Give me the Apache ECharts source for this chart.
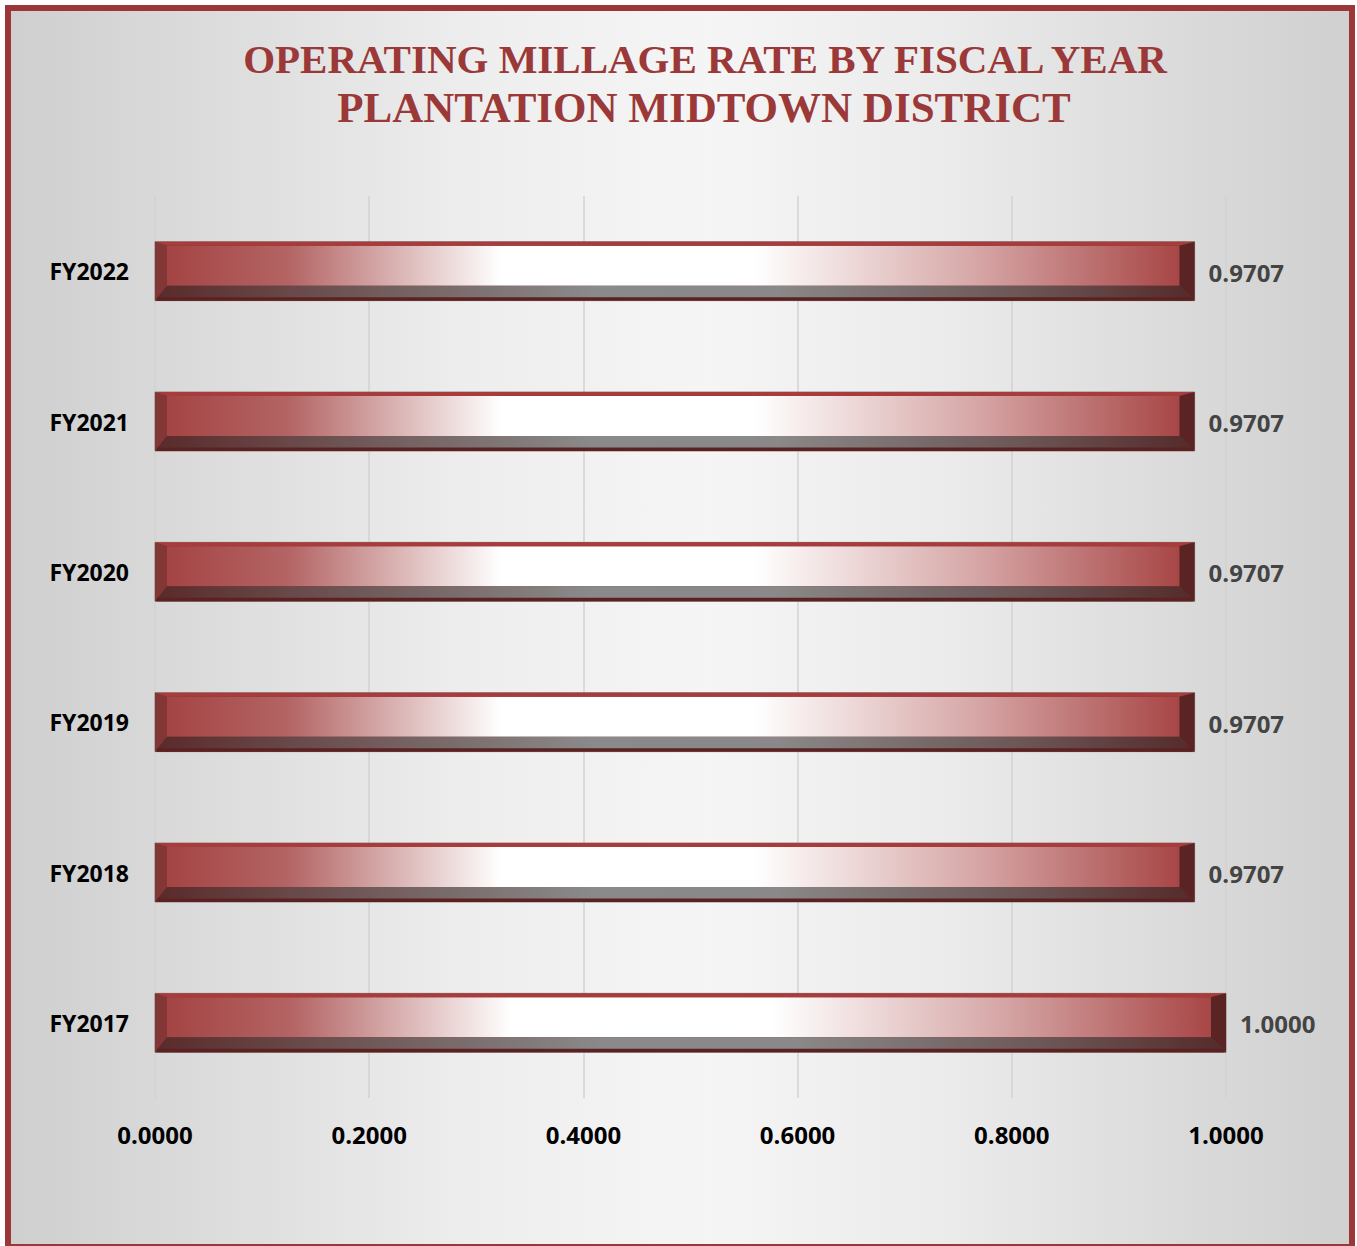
<!DOCTYPE html>
<html>
<head>
<meta charset="utf-8">
<script src="https://cdn.jsdelivr.net/npm/echarts@6/dist/echarts.min.js"></script>
<style>
  html, body { margin: 0; padding: 0; background: #ffffff; }
  #frame {
    position: absolute; left: 5px; top: 5px; width: 1350px; height: 1245px;
    box-sizing: border-box; border: 6px solid #9b3737;
    background: linear-gradient(to right, #cfcfcf 0%, #dcdcdc 15%, #eeeeee 35%, #f5f5f5 52%, #ebebeb 70%, #dadada 88%, #d0d0d0 100%);
  }
  #chart { position: absolute; left: 0; top: 0; width: 1357px; height: 1246px; }
</style>
</head>
<body>
<div id="frame"></div>
<div id="chart"></div>
<script>
const titleLines = ['OPERATING MILLAGE RATE BY FISCAL YEAR', 'PLANTATION MIDTOWN DISTRICT'];
const categories = ['FY2017', 'FY2018', 'FY2019', 'FY2020', 'FY2021', 'FY2022'];
const millageRates = [1.0000, 0.9707, 0.9707, 0.9707, 0.9707, 0.9707];
const xTicks = [0, 0.2, 0.4, 0.6, 0.8, 1.0];

const chart = echarts.init(document.getElementById('chart'), null, { renderer: 'svg' });

function lg(stops) {
  return new echarts.graphic.LinearGradient(0, 0, 1, 0, stops.map(s => ({ offset: s[0], color: s[1] })));
}

function renderBar(params, api) {
  const v = api.value(0);
  const c = api.value(1);
  const start = api.coord([0, c]);
  const end = api.coord([v, c]);
  const band = api.size([0, 1])[1];
  const h = band * 0.392;
  const x0 = start[0], x1 = end[0];
  const yt = start[1] - h / 2, yb = start[1] + h / 2;
  const lb = 12, rb = 15, tb = 4, bb = 15;
  const font = 'bold 24px "Open Sans"';
  return {
    type: 'group',
    children: [
      { type: 'rect', shape: { x: x0, y: yt, width: x1 - x0, height: h },
        style: { fill: '#7a3030', stroke: '#8c8080', lineWidth: 1 } },
      // face
      { type: 'rect', shape: { x: x0 + lb, y: yt + tb, width: x1 - x0 - lb - rb, height: h - tb - bb },
        style: { fill: lg([[0, '#a44444'], [0.12, '#b46464'], [0.33, '#ffffff'], [0.58, '#ffffff'], [0.8, '#d6a6a6'], [1, '#a84646']]) } },
      // top bevel
      { type: 'polygon', shape: { points: [[x0, yt], [x1, yt], [x1 - rb, yt + tb], [x0 + lb, yt + tb]] },
        style: { fill: '#a83c3c' } },
      // left bevel
      { type: 'polygon', shape: { points: [[x0, yt], [x0 + lb, yt + tb], [x0 + lb, yb - bb], [x0, yb]] },
        style: { fill: '#833636' } },
      // right bevel
      { type: 'polygon', shape: { points: [[x1, yt], [x1 - rb, yt + tb], [x1 - rb, yb - bb], [x1, yb]] },
        style: { fill: '#5a2424' } },
      // bottom bevel
      { type: 'polygon', shape: { points: [[x0, yb], [x0 + lb, yb - bb], [x1 - rb, yb - bb], [x1, yb]] },
        style: { fill: lg([[0, '#5a2a2a'], [0.18, '#6e5454'], [0.42, '#8a8a8a'], [0.6, '#8a8888'], [0.85, '#6a5252'], [1, '#552a2a']]) } },
      // bottom dark stripe
      { type: 'rect', shape: { x: x0 + 2, y: yb - 3.5, width: x1 - x0 - 4, height: 3.5 },
        style: { fill: '#5c2222' } },
      // value label
      { type: 'text', x: x1 + 14, y: start[1] + 1,
        style: { text: v.toFixed(4), fill: '#444444', font: font, textVerticalAlign: 'middle', textAlign: 'left' } }
    ]
  };
}

chart.setOption({
  animation: false,
  backgroundColor: 'transparent',
  graphic: [
    { type: 'text', x: 705, y: 59, style: { text: titleLines[0], fill: '#9b3838', font: 'bold 41px "Liberation Serif"', textAlign: 'center', textVerticalAlign: 'middle' } },
    { type: 'text', x: 704, y: 107, style: { text: titleLines[1], fill: '#9b3838', font: 'bold 43px "Liberation Serif"', textAlign: 'center', textVerticalAlign: 'middle' } }
  ],
  grid: { left: 155, right: 131, top: 196, bottom: 148 },
  xAxis: {
    type: 'value', min: xTicks[0], max: xTicks[xTicks.length - 1], interval: 0.2,
    axisLine: { show: false }, axisTick: { show: false },
    splitLine: { show: true, lineStyle: { color: '#d2d2d2', width: 1.5 } },
    axisLabel: { margin: 24, color: '#000000', fontFamily: 'Open Sans', fontWeight: 'bold', fontSize: 24,
      formatter: v => v.toFixed(4) }
  },
  yAxis: {
    type: 'category', data: categories,
    axisLine: { show: false }, axisTick: { show: false },
    axisLabel: { margin: 26, color: '#000000', fontFamily: 'Open Sans', fontWeight: 'bold', fontSize: 23 }
  },
  series: [{
    type: 'custom',
    renderItem: renderBar,
    encode: { x: 0, y: 1 },
    data: millageRates.map((v, i) => [v, i])
  }]
});
</script>
</body>
</html>
